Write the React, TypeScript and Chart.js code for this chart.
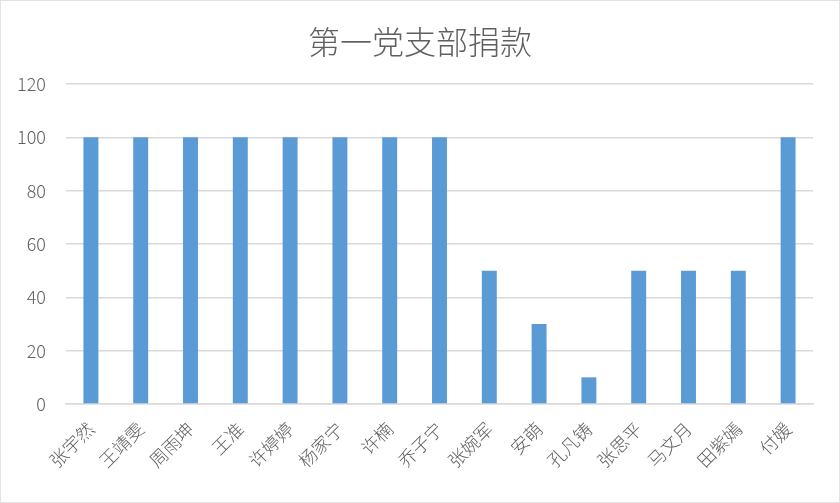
import React, { useEffect, useRef } from "react";
import { Chart, registerables } from "chart.js";

Chart.register(...registerables);

const TITLE = "第一党支部捐款";
const names = [
  "张宇然", "王靖雯", "周雨坤", "王准", "许婷婷", "杨家宁", "许楠", "乔子宁",
  "张婉军", "安萌", "孔凡铸", "张思平", "马文月", "田紫嫣", "付媛",
];
const donations = [100, 100, 100, 100, 100, 100, 100, 100, 50, 30, 10, 50, 50, 50, 100];
const yMin = 0;
const yMax = 120;
const yStep = 20;

const FONT = "'Noto Sans CJK SC', 'Noto Sans', sans-serif";
const TEXT = "#5f5f5f";
const GRID = "#D9D9D9";
const BAR = "#5B9BD5";

const centeredTitle = {
  id: "centeredTitle",
  afterDraw(chart: any) {
    const ctx = chart.ctx;
    ctx.save();
    ctx.font = `300 32px ${FONT}`;
    ctx.fillStyle = TEXT;
    ctx.textAlign = "center";
    ctx.textBaseline = "middle";
    ctx.fillText(TITLE, chart.width / 2, 42);
    ctx.restore();
  },
};

export default function App() {
  const ref = useRef<HTMLCanvasElement | null>(null);

  useEffect(() => {
    if (!ref.current) return;
    const chart = new Chart(ref.current, {
      type: "bar",
      data: {
        labels: names,
        datasets: [
          {
            label: TITLE,
            data: donations,
            backgroundColor: BAR,
            borderWidth: 0,
            categoryPercentage: 1,
            barPercentage: 0.3,
          },
        ],
      },
      plugins: [centeredTitle],
      options: {
        animation: false,
        responsive: false,
        maintainAspectRatio: false,
        layout: { padding: { left: 0, right: 27, top: 84, bottom: 0 } },
        plugins: {
          legend: { display: false },
          tooltip: { enabled: false },
          title: { display: false },
        },
        scales: {
          x: {
            grid: { display: false, drawTicks: false },
            border: { display: true, color: GRID, width: 1.5 },
            ticks: {
              color: TEXT,
              font: { family: FONT, size: 18, weight: 300 },
              minRotation: 45,
              maxRotation: 45,
              autoSkip: false,
              padding: 14,
            },
            afterFit: (scale: any) => {
              scale.height = 99;
            },
          },
          y: {
            min: yMin,
            max: yMax,
            grid: { color: GRID, lineWidth: 1.5, drawTicks: false },
            border: { display: false },
            ticks: {
              stepSize: yStep,
              color: TEXT,
              font: { family: FONT, size: 18, weight: 300 },
              padding: 20,
            },
            afterFit: (scale: any) => {
              scale.width = 66;
            },
          },
        },
      },
    });
    return () => chart.destroy();
  }, []);

  return (
    <div style={{ position: "absolute", left: 0, top: 0, width: 840, height: 503, background: "#fff" }}>
      <canvas ref={ref} width={840} height={503} style={{ display: "block" }} />
      <div
        style={{
          position: "absolute",
          left: 0,
          top: 0,
          width: 840,
          height: 503,
          boxSizing: "border-box",
          border: "1px solid #E3E3E3",
          pointerEvents: "none",
        }}
      />
    </div>
  );
}
